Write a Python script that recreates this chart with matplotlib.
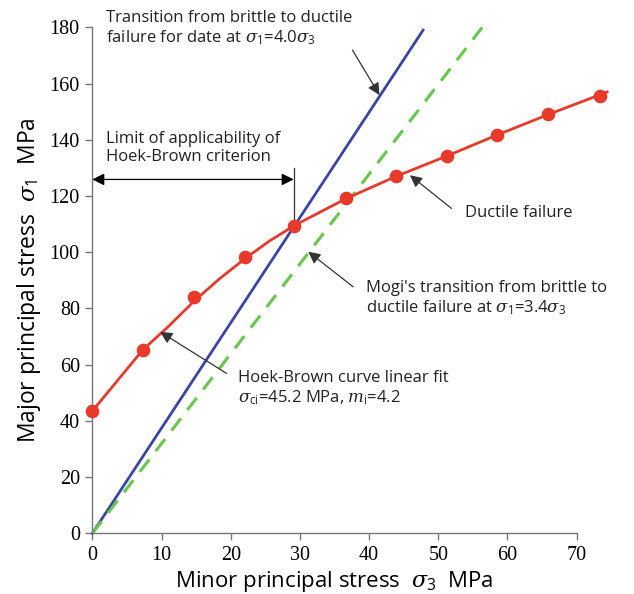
import matplotlib
matplotlib.use('Agg')
import matplotlib.pyplot as plt

plt.rcParams['font.family'] = ['Open Sans', 'DejaVu Sans']
plt.rcParams['mathtext.fontset'] = 'custom'
plt.rcParams['mathtext.rm'] = 'Open Sans'
plt.rcParams['mathtext.it'] = 'DejaVu Serif:italic'

# test points (sigma3, sigma1), MPa
s3_pts = [0, 7.3, 14.7, 22.1, 29.2, 36.6, 43.9, 51.2, 58.5, 65.9, 73.3]
s1_pts = [43.5, 65.2, 84.2, 98.4, 109.4, 119.2, 127.2, 134.2, 141.7, 149.0, 155.7]

# fitted curve
s3_fit = [0, 7.3, 11.0, 14.7, 18.4, 22.1, 25.6, 29.2, 36.6, 43.9, 51.2, 58.5, 65.9, 74.4]
s1_fit = [43.5, 65.3, 73.6, 82.6, 90.6, 97.8, 104.0, 109.5, 119.0, 127.0, 134.2, 141.7, 149.0, 157.0]

# transition lines
s3_blue = [0, 47.8]
s1_blue = [0, 179.0]
s3_green = [0, 56.5]
s1_green = [0, 180.5]

xticks = [0, 10, 20, 30, 40, 50, 60, 70]
yticks = [0, 20, 40, 60, 80, 100, 120, 140, 160, 180]

fig = plt.figure(figsize=(6.34, 5.94), dpi=100)
ax = fig.add_axes([0.1456, 0.102, 0.764, 0.852])

red = '#e8392b'
ax.plot(s3_blue, s1_blue, color='#3a45a6', lw=2, clip_on=False, zorder=2)
ax.plot(s3_green, s1_green, color='#66c84a', lw=2.2, ls=(0, (5, 3.5)), clip_on=False, zorder=2)
ax.plot(s3_fit, s1_fit, color=red, lw=2, clip_on=False, zorder=3)
ax.plot(s3_pts, s1_pts, 'o', color=red, ms=8.8, clip_on=False, zorder=4)

ax.set_xlim(0, 70)
ax.set_ylim(0, 180)
ax.set_xticks(xticks)
ax.set_yticks(yticks)
for lab in ax.get_xticklabels() + ax.get_yticklabels():
    lab.set_fontfamily('Liberation Serif')
    lab.set_fontsize(14.5)
ax.tick_params(direction='out', length=5, width=1, color='#777777', pad=4)
ax.spines['top'].set_visible(False)
ax.spines['right'].set_visible(False)
for s in ['left', 'bottom']:
    ax.spines[s].set_color('#777777')
    ax.spines[s].set_linewidth(1)

ax.set_xlabel(r'Minor principal stress  $\sigma_3$  MPa', fontsize=16, labelpad=3)
ax.set_ylabel(r'Major principal stress  $\sigma_1$  MPa', fontsize=16.5, labelpad=5)

txt = dict(fontsize=12, color='#222222', linespacing=1.15)
arr = dict(arrowstyle='-|>', color='#333333', lw=0.9, mutation_scale=18, shrinkA=0, shrinkB=0)

ax.text(2.0, 186, 'Transition from brittle to ductile\nfailure for date at $\\sigma_1$=4.0$\\sigma_3$',
        va='top', ha='left', **txt)
ax.annotate('', xy=(41.5, 155.9), xytext=(37.6, 171.9), arrowprops=arr)

ax.text(2.0, 143, 'Limit of applicability of\nHoek-Brown criterion', va='top', ha='left', **txt)
ax.annotate('', xy=(0, 125.9), xytext=(29.1, 125.9),
            arrowprops=dict(arrowstyle='<|-|>', color='black', lw=0.9, mutation_scale=18,
                            shrinkA=0, shrinkB=0))
ax.plot([29.1, 29.1], [110, 130], color='#333333', lw=0.9, zorder=1)

ax.text(53.8, 113.8, 'Ductile failure', va='center', ha='left', **txt)
ax.annotate('', xy=(45.9, 127.4), xytext=(51.9, 115.6), arrowprops=arr)

ax.text(39.6, 90, "Mogi's transition from brittle to\nductile failure at $\\sigma_1$=3.4$\\sigma_3$",
        va='top', ha='left', **txt)
ax.annotate('', xy=(31.2, 100.2), xytext=(37.7, 87.7), arrowprops=arr)

ax.text(21.1, 58, 'Hoek-Brown curve linear fit\n$\\sigma_\\mathrm{ci}$=45.2 MPa, $m_\\mathrm{i}$=4.2',
        va='top', ha='left', **txt)
ax.annotate('', xy=(9.8, 71.7), xytext=(19.4, 56.9), arrowprops=arr)

fig.savefig('out.png', dpi=100)
